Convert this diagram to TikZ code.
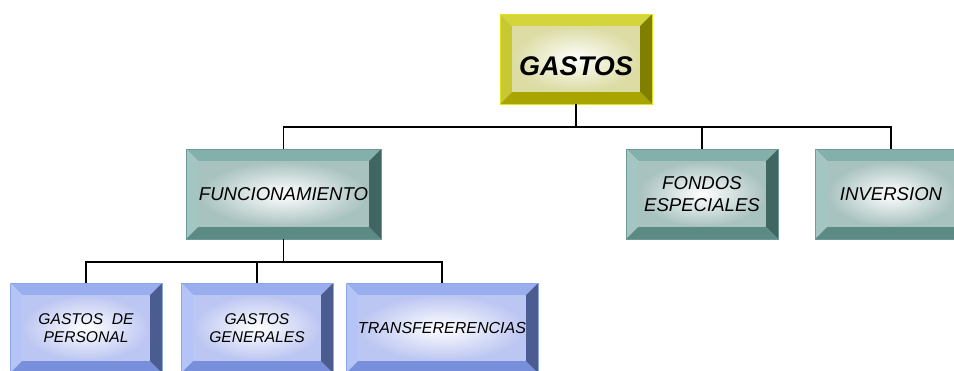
\documentclass[tikz,border=0pt]{standalone}
\usepackage{fontspec}
\setmainfont{Liberation Sans}
\definecolor{goldrim}{HTML}{E2E21C}
\definecolor{goldtop}{HTML}{D4D43C}
\definecolor{goldleft}{HTML}{C8C832}
\definecolor{goldbottom}{HTML}{A8A400}
\definecolor{goldright}{HTML}{808000}
\definecolor{goldface}{HTML}{DCDCA4}
\definecolor{tealrim}{HTML}{6C9A95}
\definecolor{tealtop}{HTML}{84B0AC}
\definecolor{tealleft}{HTML}{A4C6C2}
\definecolor{tealbottom}{HTML}{5C8A84}
\definecolor{tealright}{HTML}{3F6661}
\definecolor{tealface}{HTML}{A8C2C0}
\definecolor{bluerim}{HTML}{8EA6E8}
\definecolor{bluetop}{HTML}{98AEEE}
\definecolor{blueleft}{HTML}{B4C4F6}
\definecolor{bluebottom}{HTML}{7890DC}
\definecolor{blueright}{HTML}{4B5C90}
\definecolor{blueface}{HTML}{BCC6F2}
\tikzset{
  bevel/.style n args={6}{
    draw=#1, line width=0.8pt, minimum height=90pt, inner sep=0pt, align=center,
    path picture={
      \coordinate (nw) at (path picture bounding box.north west);
      \coordinate (ne) at (path picture bounding box.north east);
      \coordinate (sw) at (path picture bounding box.south west);
      \coordinate (se) at (path picture bounding box.south east);
      \fill[#2] (nw) -- (ne) -- ([xshift=-12.5pt,yshift=-12.5pt]ne) -- ([xshift=12.5pt,yshift=-12.5pt]nw) -- cycle;
      \fill[#3] (nw) -- ([xshift=12.5pt,yshift=-12.5pt]nw) -- ([xshift=12.5pt,yshift=12.5pt]sw) -- (sw) -- cycle;
      \fill[#4] (sw) -- (se) -- ([xshift=-12.5pt,yshift=12.5pt]se) -- ([xshift=12.5pt,yshift=12.5pt]sw) -- cycle;
      \fill[#5] (ne) -- (se) -- ([xshift=-12.5pt,yshift=12.5pt]se) -- ([xshift=-12.5pt,yshift=-12.5pt]ne) -- cycle;
      \shade[inner color=white, outer color=#6] ([xshift=12.5pt,yshift=-12.5pt]nw) rectangle ([xshift=-12.5pt,yshift=12.5pt]se);
    }
  },
  goldbox/.style={bevel={goldrim}{goldtop}{goldleft}{goldbottom}{goldright}{goldface}},
  tealbox/.style={bevel={tealrim}{tealtop}{tealleft}{tealbottom}{tealright}{tealface}, font=\itshape\fontsize{18.6}{21.5}\selectfont},
  bluebox/.style={bevel={bluerim}{bluetop}{blueleft}{bluebottom}{blueright}{blueface}, font=\itshape\fontsize{15.6}{17.5}\selectfont}
}
\begin{document}
\begin{tikzpicture}[x=1pt,y=-1pt,line width=1.8pt]
\useasboundingbox (0,0) rectangle (954,370);
% top
\node[goldbox, minimum width=152pt, font=\bfseries\itshape\fontsize{27}{30}\selectfont, text height=32pt, text depth=0pt] (gastos) at (576,59) {GASTOS};
% second row
\node[tealbox, minimum width=195pt] (funcion) at (283.5,194) {FUNCIONAMIENTO};
\node[tealbox, minimum width=152pt] (fondos) at (702,194) {FONDOS\\ESPECIALES};
\node[tealbox, minimum width=152pt] (inversion) at (891,194) {INVERSION};
% third row
\node[bluebox, minimum width=152pt] (personal) at (86,328) {GASTOS~ DE\\PERSONAL};
\node[bluebox, minimum width=152pt] (generales) at (257,328) {GASTOS\\GENERALES};
\node[bluebox, minimum width=192pt, font=\itshape\fontsize{16}{17.5}\selectfont] (transfer) at (442,328) {TRANSFERERENCIAS};
% connectors
\coordinate (topbar) at (576,127);
\coordinate (lowbar) at (283.5,262);
\draw (gastos.south) -- (topbar) -| (funcion.north);
\draw (topbar) -| (fondos.north);
\draw (topbar) -| (inversion.north);
\draw (funcion.south) -- (lowbar) -| (personal.north);
\draw (lowbar) -| (generales.north);
\draw (lowbar) -| (transfer.north);
\end{tikzpicture}
\end{document}
